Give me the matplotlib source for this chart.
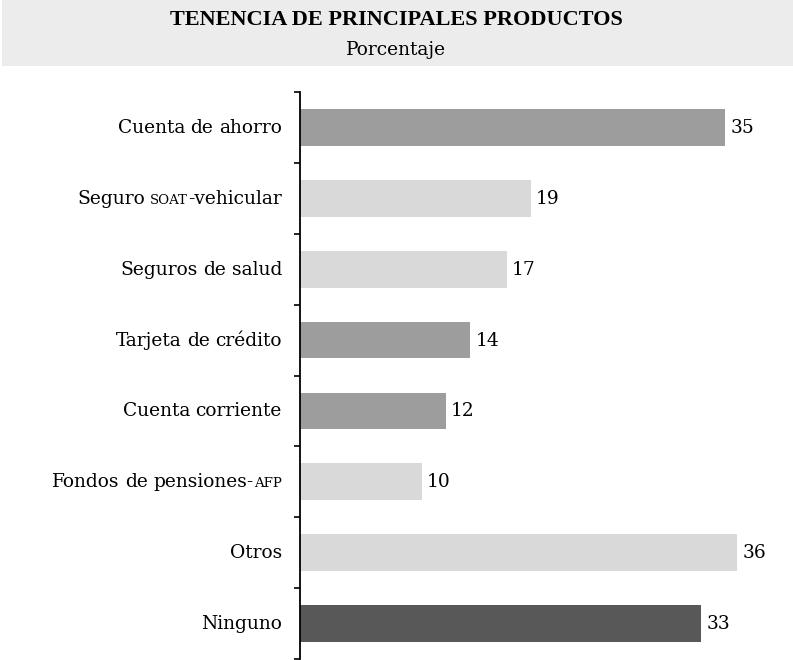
import re
import numpy as np
import matplotlib
matplotlib.use("Agg")
import matplotlib.pyplot as plt
from matplotlib.patches import Rectangle

# datos (las partes entre llaves van en versalitas)
categorias = [
    "Cuenta de ahorro",
    "Seguro {soat}-vehicular",
    "Seguros de salud",
    "Tarjeta de crédito",
    "Cuenta corriente",
    "Fondos de pensiones-{afp}",
    "Otros",
    "Ninguno",
]
valores = [35, 19, 17, 14, 12, 10, 36, 33]

titulo = "TENENCIA DE PRINCIPALES PRODUCTOS"
subtitulo = "Porcentaje"

# estilo
colores = ["#9d9d9d", "#d9d9d9", "#d9d9d9", "#9d9d9d",
           "#9d9d9d", "#d9d9d9", "#d9d9d9", "#585858"]
fuente_tit = ["Liberation Serif", "DejaVu Serif"]
fuente = ["DejaVu Serif"]
fs_lab = 13.4
base_off = -4.0  # pt, baseline bajo el centro de la barra
W, H = 793, 660

fig = plt.figure(figsize=(W / 100, H / 100), dpi=100)

# franja del encabezado
fig.patches.append(Rectangle((2 / W, 1 - 66 / H), 1, 66 / H, transform=fig.transFigure,
                             facecolor="#ececec", edgecolor="none", zorder=0))
fig.text(0.5, 1 - 25 / H, titulo, ha="center", va="baseline", fontsize=16,
         fontweight="bold", family=fuente_tit)
fig.text(0.5, 1 - 55 / H, subtitulo, ha="center", va="baseline", fontsize=fs_lab,
         family=fuente)

ax = fig.add_axes([300 / W, 1 - 659 / H, 493 / W, 567 / H])
y = np.arange(len(categorias))
ax.barh(y, valores, height=0.52, color=colores, zorder=2)

ax.set_xlim(0, 493 / 12.15)
ax.set_ylim(len(categorias) - 0.5, -0.5)
for s in ["top", "right", "bottom"]:
    ax.spines[s].set_visible(False)
ax.spines["left"].set_linewidth(1.3)
ax.set_xticks([])
ax.set_yticks(np.arange(-0.5, len(categorias), 1))
ax.set_yticklabels([])
ax.tick_params(axis="y", length=4.5, width=1.2, direction="out")

for i, v in enumerate(valores):
    ax.annotate(str(v), xy=(v, i), xytext=(3.8, base_off), textcoords="offset points",
                ha="left", va="baseline", fontsize=fs_lab, family=fuente)

# etiquetas de categorias, armadas por partes
fig.canvas.draw()
renderer = fig.canvas.get_renderer()
for i, lab in enumerate(categorias):
    partes = [p for p in re.split(r"(\{[^}]*\}|\s+)", lab) if p]
    x_off = -13.0
    for p in reversed(partes):
        if p.isspace():
            x_off -= fs_lab * 0.3
            continue
        if p.startswith("{"):
            txt, fs = p[1:-1].upper(), fs_lab * 0.72
        else:
            txt, fs = p, fs_lab
        t = ax.annotate(txt, xy=(0, i), xycoords=("axes fraction", "data"),
                        xytext=(x_off, base_off), textcoords="offset points",
                        ha="right", va="baseline", fontsize=fs, family=fuente)
        x_off -= t.get_window_extent(renderer).width * 72 / fig.dpi

fig.savefig("out.png", dpi=100)
